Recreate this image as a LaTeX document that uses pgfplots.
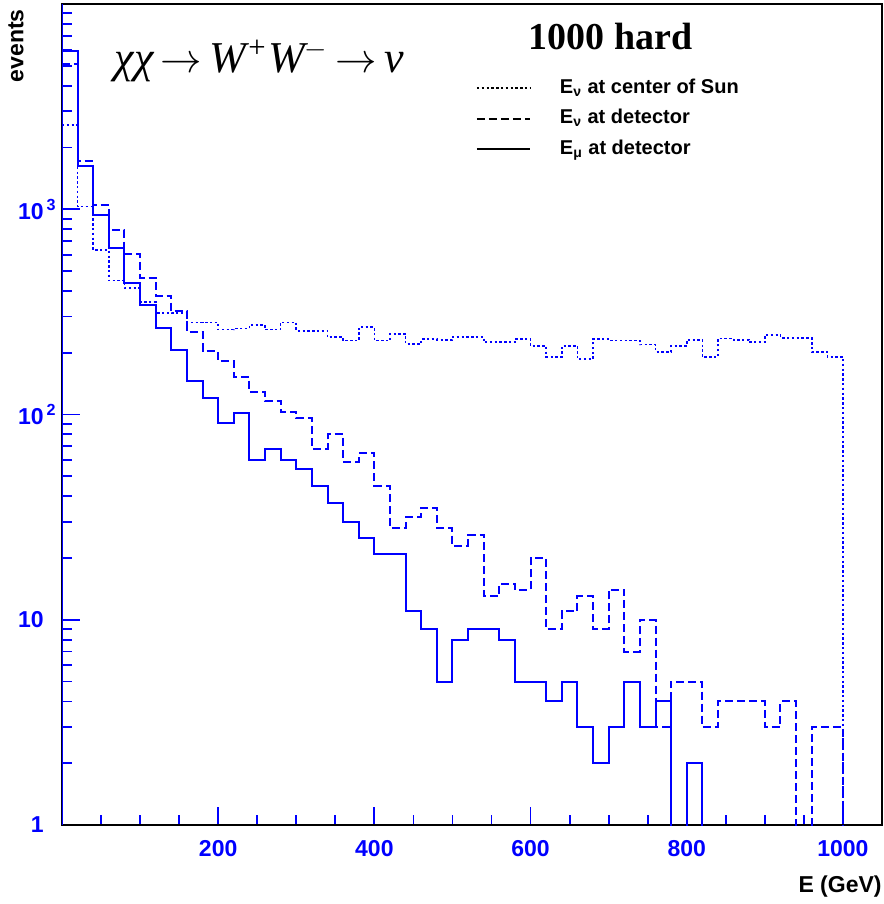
\documentclass[border=0pt]{standalone}
\usepackage{fontspec}
\setmainfont{Liberation Serif}
\setsansfont{Liberation Sans}
\usepackage{pgfplots}
\pgfplotsset{compat=1.18}
\usepackage{pgfplotstable}

% bin left edges (GeV), counts per 20 GeV bin; 0.5 stands for an empty bin (below the axis)
\pgfplotstableread{
E    sun   det   mu
0    2580  5100  5890
20   1030  1710  1630
40   634   1043  940
60   449   794   645
80   412   606   438
100  354   465   340
120  313   380   264
140  312   318   207
160  281   251   146
180  281   203   121
200  259   182   91
220  262   152   102
240  273   129   60
260  259   116   68
280  281   103   60
300  256   96    54
320  256   68    45
340  238   80    37
360  229   59    30
380  266   65    25
400  229   45    21
420  247   28    21
440  221   31.5  11
460  233   35    9
480  231   28    5
500  239   23    8
520  239   26    9
540  225   13    9
560  225   15    8
580  233   14    5
600  216   20    5
620  191   9     4
640  216   11    5
660  186   13    3
680  233   9     2
700  229   14    3
720  229   7     5
740  219   10    3
760  202   3     4
780  216   5     0.5
800  231   5     2
820  191   3     0.5
840  235   4     0.5
860  231   4     0.5
880  225   4     0.5
900  244   3     0.5
920  236   4     0.5
940  236   0.5   0.5
960  202   3     0.5
980  191   3     0.5
1000 0.5   0.5   0.5
}\histdata

\begin{document}
\begin{tikzpicture}
\begin{axis}[
  scale only axis,
  width=410pt, height=410.5pt,
  xmin=0, xmax=1050,
  ymode=log, ymin=1, ymax=10000,
  xtick={200,400,600,800,1000},
  xticklabels={200,400,600,800,1000},
  minor xtick={0,50,...,1050},
  ytick={1,10,100,1000},
  yticklabels={1,10,10\rlap{\hspace{1.5pt}\textsuperscript{2}},10\rlap{\hspace{1.5pt}\textsuperscript{3}}},
  minor ytick={2,3,...,9,20,30,...,90,200,300,...,900,2000,3000,...,9000},
  xtick pos=bottom, ytick pos=left,
  tick align=inside,
  major tick length=9pt, minor tick length=5pt,
  tick style={blue, line width=0.9pt},
  ticklabel style={font=\sffamily\bfseries\fontsize{11.5}{12}\selectfont, text=blue, inner sep=0pt},
  xticklabel style={yshift=-7.5pt},
  yticklabel style={xshift=-9pt},
  axis line style={black, line width=1pt},
  xlabel={E (GeV)},
  xlabel style={at={(axis description cs:1,-0.0755)}, anchor=east, inner sep=0pt,
                font=\sffamily\bfseries\fontsize{11.5}{12}\selectfont},
  ylabel={events},
  ylabel style={at={(axis description cs:-0.0561,0.949)}, anchor=center, inner sep=0pt,
                font=\sffamily\bfseries\fontsize{11.5}{12}\selectfont},
  legend cell align=left,
  legend style={draw=none, fill=none, at={(rel axis cs:0.497,0.914)}, anchor=north west,
                font=\sffamily\bfseries\fontsize{10}{11}\selectfont,
                row sep=6.25pt,
                nodes={inner sep=0pt, text height=7pt, text depth=2pt},
                /tikz/every odd column/.append style={column sep=14.5pt}},
  legend image code/.code={\draw[#1, black] (0pt,0pt) -- (26.5pt,0pt);},
]
\addplot[const plot, blue, line width=0.8pt, dash pattern=on 1.2pt off 1.2pt]
  table[x=E, y=sun]{\histdata};
\addlegendentry{E\textsubscript{ν} at center of Sun}
\addplot[const plot, blue, line width=1pt, dash pattern=on 4pt off 2pt]
  table[x=E, y=det]{\histdata};
\addlegendentry{E\textsubscript{ν} at detector}
\addplot[const plot, blue, line width=1pt]
  table[x=E, y=mu]{\histdata};
\addlegendentry{E\textsubscript{μ} at detector}

\draw[blue, line width=1pt] (rel axis cs:0,0) -- (rel axis cs:0,1);
\node[font=\bfseries\fontsize{19}{20}\selectfont, anchor=base] at (rel axis cs:0.669,0.944) {1000 hard};
\node[font=\fontsize{22}{24}\selectfont\itshape, anchor=base west, inner sep=0pt] at (rel axis cs:0.064,0.917)
  {χχ\,$\rightarrow$\,W\textsuperscript{+}W\textsuperscript{$-$}\,$\rightarrow$\,ν};
\coordinate (bbA) at (rel axis cs:0,0);
\coordinate (bbB) at (rel axis cs:1,1);
\end{axis}
\pgfresetboundingbox
\path ([shift={(-31pt,-39.5pt)}]bbA) rectangle ([shift={(1pt,2pt)}]bbB);
\end{tikzpicture}
\end{document}
